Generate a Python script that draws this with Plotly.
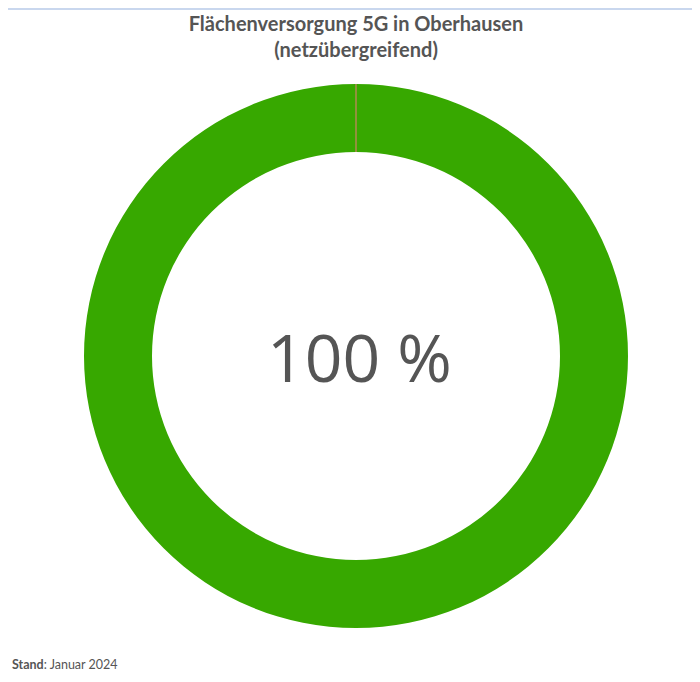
import plotly.graph_objects as go

# Flächenversorgung 5G (netzübergreifend), Oberhausen, Stand Januar 2024
labels = ["versorgt", "nicht versorgt"]
values = [100, 0]
colors = ["#37a800", "#b5651d"]
center_text = "100 %"
footer = "<b>Stand</b>: Januar 2024"

W, H = 692, 674          # page adds an 8px body margin
L, R, T, B = 76, 72, 76, 54
ph = H - T - B

fig = go.Figure(go.Pie(
    labels=labels,
    values=values,
    hole=0.75,
    sort=False,
    direction="clockwise",
    rotation=0,
    textinfo="none",
    hoverinfo="label+percent",
    marker=dict(colors=colors, line=dict(color=["#37a800", "#b08a50"], width=[0, 1])),
    showlegend=False,
))

fig.add_annotation(
    text=center_text, x=0.5, y=0.5, xref="paper", yref="paper", showarrow=False,
    xshift=3, font=dict(family="Open Sans", size=66, color="#555555"),
)

fig.add_annotation(
    text=footer, x=(2 - L) / (W - L - R), y=(H - B - 656) / ph,
    xref="paper", yref="paper",
    showarrow=False, xanchor="left", yanchor="middle",
    font=dict(family="Lato", size=12.5, color="#555555"),
)

fig.update_layout(
    width=W, height=H,
    margin=dict(l=L, r=R, t=T, b=B),
    paper_bgcolor="white",
    title=dict(
        text="<b>Flächenversorgung 5G in Oberhausen<br>(netzübergreifend)</b>",
        x=348 / W, xanchor="center", y=1 - 23 / H, yanchor="middle",
        font=dict(family="Lato", size=20, color="#555555"),
    ),
    shapes=[dict(type="line", xref="paper", yref="paper", x0=-0.2, x1=1.2,
                 y0=(H - B - 1) / ph, y1=(H - B - 1) / ph,
                 line=dict(color="#c9d7ee", width=2))],
)

fig.write_html("out.html")
